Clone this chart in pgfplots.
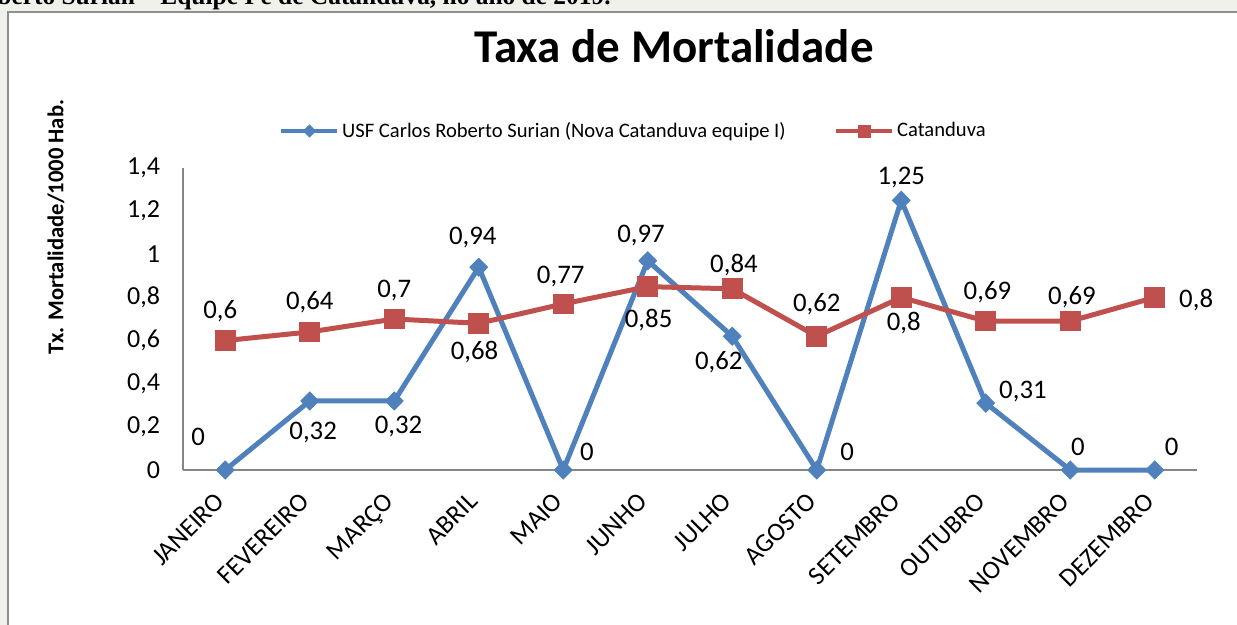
\documentclass[border=0pt]{standalone}
\usepackage{pgfplots}
\pgfplotsset{compat=1.18}
\usepackage{fontspec}
\setmainfont{Carlito}
\newfontfamily\capfont{Liberation Serif}
\definecolor{serA}{HTML}{4F81BD}
\definecolor{serB}{HTML}{C0504D}
\definecolor{axgray}{HTML}{868686}
\definecolor{pagebg}{HTML}{EEF2EA}
\definecolor{framegray}{HTML}{8F8F8F}

\begin{document}
\begin{tikzpicture}
% page 1237 x 625 px, 1 px = 0.5 pt
\useasboundingbox (0,0) rectangle (618.5pt,-312.5pt);
\clip (0,0) rectangle (618.5pt,-312.5pt);
\fill[pagebg] (0,0) rectangle (618.5pt,-312.5pt);
\fill[white] (4pt,-6pt) rectangle (630pt,-330pt);
\draw[framegray, line width=1pt] (4pt,-330pt) -- (4pt,-6pt) -- (630pt,-6pt);
\node[anchor=base west, font=\capfont\bfseries\fontsize{12.7}{15}\selectfont, inner sep=0pt]
  at (-1.5pt,-2.5pt) {berto Surian – Equipe I e de Catanduva, no ano de 2019.};

\node[font=\bfseries\fontsize{23.5}{28}\selectfont] at (337pt,-23pt) {Taxa de Mortalidade};
\node[rotate=90, font=\bfseries\fontsize{11.3}{13}\selectfont] at (28pt,-113.5pt) {Tx. Mortalidade/1000 Hab.};

\begin{axis}[
    at={(91.5pt,-235pt)}, anchor=south west,
    scale only axis, width=507pt, height=151pt,
    xmin=-0.5, xmax=11.5, ymin=0, ymax=1.4,
    axis lines=left,
    axis line style={-, draw=axgray, line width=0.9pt},
    major tick length=0pt,
    xtick={0,...,11},
    xticklabels={JANEIRO,FEVEREIRO,MARÇO,ABRIL,MAIO,JUNHO,JULHO,AGOSTO,SETEMBRO,OUTUBRO,NOVEMBRO,DEZEMBRO},
    xticklabel style={rotate=45, anchor=north east, font=\fontsize{13}{15}\selectfont, xshift=-8pt, yshift=0pt},
    ytick={0,0.2,...,1.4},
    yticklabel style={font=\fontsize{13}{15}\selectfont, xshift=-8pt},
    /pgf/number format/use comma,
    /pgf/number format/assume math mode=true,
    clip=false,
    legend columns=2,
    legend style={at={(0.445,1.1225)}, anchor=center, draw=none, fill=none,
        nodes={font=\fontsize{10.3}{12}\selectfont, inner xsep=1.5pt},
        /tikz/every even column/.append style={column sep=23pt}},
    legend cell align=left,
    legend image code/.code={
        \draw[#1, line width=1.7pt, mark size=3pt, mark repeat=2, mark phase=2]
        plot coordinates {(0pt,0pt) (14pt,0pt) (28pt,0pt)};},
]
\addplot[serA, line width=2.5pt, mark=diamond*, mark size=4.5pt, mark options={xscale=1.3, line width=0.5pt}] coordinates {
    (0,0) (1,0.32) (2,0.32) (3,0.94) (4,0) (5,0.97) (6,0.62) (7,0) (8,1.25) (9,0.31) (10,0) (11,0)
};
\addlegendentry{USF Carlos Roberto Surian (Nova Catanduva equipe I)}
\addplot[serB, line width=2.5pt, mark=square*, mark size=4.9pt, mark options={line width=0.5pt}] coordinates {
    (0,0.6) (1,0.64) (2,0.7) (3,0.68) (4,0.77) (5,0.85) (6,0.84) (7,0.62) (8,0.8) (9,0.69) (10,0.69) (11,0.8)
};
\addlegendentry{Catanduva}

\begin{scope}[every node/.style={font=\fontsize{13.4}{15}\selectfont}]
% data labels, USF
\node at (axis cs:-0.32,0.153) {0};
\node at (axis cs:1.04,0.176) {0,32};
\node at (axis cs:2.05,0.2) {0,32};
\node at (axis cs:2.93,1.076) {0,94};
\node at (axis cs:4.28,0.083) {0};
\node at (axis cs:4.92,1.085) {0,97};
\node at (axis cs:5.84,0.5) {0,62};
\node at (axis cs:7.36,0.083) {0};
\node at (axis cs:8.0,1.354) {1,25};
\node at (axis cs:9.44,0.362) {0,31};
\node at (axis cs:10.09,0.107) {0};
\node at (axis cs:11.2,0.107) {0};
% data labels, Catanduva
\node at (axis cs:-0.06,0.737) {0,6};
\node at (axis cs:1.0,0.779) {0,64};
\node at (axis cs:2.0,0.834) {0,7};
\node at (axis cs:2.95,0.547) {0,68};
\node at (axis cs:3.97,0.895) {0,77};
\node at (axis cs:5.01,0.695) {0,85};
\node at (axis cs:6.02,0.95) {0,84};
\node at (axis cs:7.0,0.77) {0,62};
\node at (axis cs:8.03,0.68) {0,8};
\node at (axis cs:9.02,0.825) {0,69};
\node at (axis cs:10.02,0.802) {0,69};
\node at (axis cs:11.49,0.788) {0,8};
\end{scope}
\end{axis}
\end{tikzpicture}
\end{document}
